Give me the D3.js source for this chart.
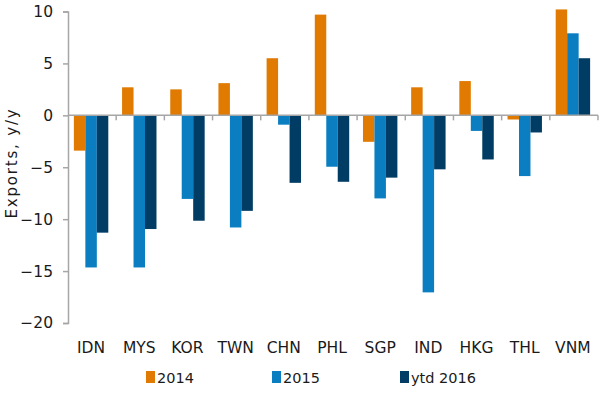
<!DOCTYPE html>
<html><head><meta charset="utf-8">
<script src="https://cdn.jsdelivr.net/npm/d3@7"></script>
<style>body{margin:0;background:#fff}svg{display:block}text{font-family:"DejaVu Sans",Verdana,sans-serif;fill:#1a1a1a}</style>
</head><body><svg id="c" width="600" height="397"></svg>
<script>
const categories = ["IDN","MYS","KOR","TWN","CHN","PHL","SGP","IND","HKG","THL","VNM"];
const seriesNames = ["2014","2015","ytd 2016"];
const s2014 = [-3.4, 2.7, 2.5, 3.1, 5.5, 9.7, -2.55, 2.7, 3.3, -0.4, 10.2];
const s2015 = [-14.65, -14.65, -8.05, -10.8, -0.9, -4.95, -8.0, -17.05, -1.5, -5.85, 7.9];
const s2016 = [-11.3, -10.95, -10.15, -9.2, -6.5, -6.4, -6.0, -5.2, -4.25, -1.65, 5.5];
const yTicks = [10, 5, 0, -5, -10, -15, -20];
const colors = ["#E07A00", "#0A7EC1", "#003C63"];

const svg = d3.select("#c");
const x0 = d3.scaleBand().domain(categories).range([68, 598]).paddingInner(0).paddingOuter(0);
const x1 = d3.scaleBand().domain(seriesNames).range([0, x0.bandwidth()]).paddingInner(0).paddingOuter(0.6);
const y = d3.scaleLinear().domain([-20, 10]).range([323, 11.5]);

const series = [s2014, s2015, s2016];
const g = svg.append("g");
series.forEach((vals, si) => {
  g.selectAll(null).data(vals).enter().append("rect")
    .attr("x", (d, i) => x0(categories[i]) + x1(seriesNames[si]) - 1)
    .attr("width", x1.bandwidth())
    .attr("y", d => y(Math.max(0, d)))
    .attr("height", d => Math.abs(y(d) - y(0)))
    .attr("fill", colors[si]);
});

// y axis
const yAxis = svg.append("g").attr("transform", "translate(68,0)")
  .call(d3.axisLeft(y).tickValues(yTicks).tickSize(5).tickPadding(10).tickFormat(d3.format("d")));
yAxis.select(".domain").attr("stroke", "#a6a6a6").attr("stroke-width", 1.5);
yAxis.selectAll(".tick line").attr("stroke", "#a6a6a6").attr("stroke-width", 1.5);
yAxis.selectAll(".tick text").attr("font-size", 15.5).attr("fill", "#1a1a1a").attr("font-family", "DejaVu Sans, Verdana, sans-serif");

// zero line with category ticks
svg.append("line").attr("x1", 68).attr("x2", 598).attr("y1", y(0)).attr("y2", y(0)).attr("stroke", "#a6a6a6").attr("stroke-width", 1.5);
const bounds = categories.map(c => x0(c) + x0.bandwidth());
svg.selectAll(null).data(bounds).enter().append("line")
  .attr("x1", d => d).attr("x2", d => d).attr("y1", y(0)).attr("y2", y(0) + 5)
  .attr("stroke", "#a6a6a6").attr("stroke-width", 1.5);

// category labels
svg.selectAll(null).data(categories).enter().append("text")
  .attr("x", d => x0(d) + x0.bandwidth() / 2 - 1)
  .attr("y", 353).attr("text-anchor", "middle").attr("font-size", 15.5)
  .text(d => d);

// y title
svg.append("text").attr("transform", "translate(16.5,163) rotate(-90)")
  .attr("text-anchor", "middle").attr("font-size", 15).attr("letter-spacing", 1.8).text("Exports, y/y");

// legend
const legX = [146, 272, 400];
seriesNames.forEach((n, i) => {
  svg.append("rect").attr("x", legX[i]).attr("y", 371).attr("width", 9).attr("height", 12).attr("fill", colors[i]);
  svg.append("text").attr("x", legX[i] + 11).attr("y", 383).attr("font-size", 14.5).text(n);
});
</script></body></html>
